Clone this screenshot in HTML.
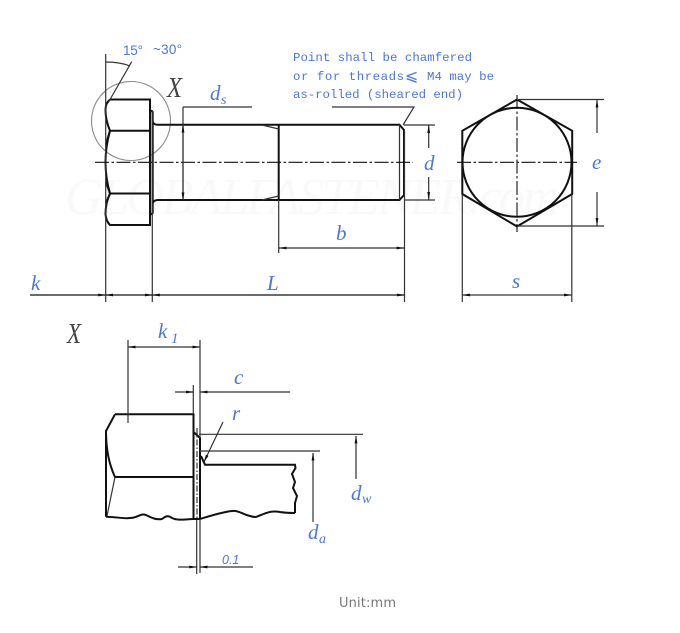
<!DOCTYPE html>
<html>
<head>
<meta charset="utf-8">
<style>
html,body{margin:0;padding:0;background:#fff;width:680px;height:633px;overflow:hidden}
svg{display:block;filter:blur(0.35px)}
.o{fill:none;stroke:#111;stroke-width:2}
.t{fill:none;stroke:#333;stroke-width:1.2}
.c{fill:none;stroke:#111;stroke-width:1.1;stroke-dasharray:14 2.5 2.5 2.5}
.m{font-family:"Liberation Mono",monospace;font-size:12.4px;fill:#4a76e0}
.l{font-family:"Liberation Serif",serif;font-style:italic;font-size:21px;fill:#4a76e0}
.s{font-family:"Liberation Serif",serif;font-style:italic;font-size:14px;fill:#4a76e0}
.x{font-family:"Liberation Serif",serif;font-style:italic;font-size:28px;fill:#444}
</style>
</head>
<body>
<svg width="680" height="633" viewBox="0 0 680 633" xmlns="http://www.w3.org/2000/svg">
<defs>
<marker id="a" markerWidth="8" markerHeight="4" refX="7.5" refY="2" orient="auto-start-reverse" markerUnits="userSpaceOnUse"><path d="M0,0.6 L8,2 L0,3.4Z" fill="#111"/></marker>
</defs>

<text x="65" y="214" font-family="Liberation Serif,serif" font-style="italic" font-size="52" fill="#f9f9f9" textLength="495">GLOBALFASTENER.com</text>

<!-- top view: head -->
<circle cx="131" cy="121" r="39.5" fill="none" stroke="#8a8a8a" stroke-width="1.1"/>
<path class="o" d="M110,99.5 H150 V225 H110 Q106,221 105.5,214 Q105.5,203 110,193.5 H150 M110,193.5 Q105.5,178 105.5,162 Q105.5,147 110,130.7 H150 M110,130.7 Q105.5,120 105.5,110 Q105.5,103 110,99.5"/>
<path class="o" d="M106,144 L110,130.7 M106,182 L110,193.5 M110,193.5 L106,203"/>
<path class="o" d="M150,110 L152.7,112 V213 L150,215"/>
<path class="o" d="M152.7,122 Q154,124.8 158,124.8 H399.5 L404,130 V195 L399.5,200 H158 Q154,200 152.7,203"/>
<path class="t" d="M399.5,125 V200"/>
<path class="o" d="M278.7,125 V200"/>
<path class="t" d="M262,125 L278.7,129 M262,200 L278.7,196"/>

<!-- extension lines -->
<path class="t" d="M105.7,54 V302 M152.3,110 V302 M404.5,130 V302 M278.7,200 V253 M183,107 H252 M183,107 V200 M404,125 H435 M404,200 H435"/>
<path class="c" d="M95,162.3 H413"/>

<!-- angle & leaders -->
<path class="t" d="M106,62 Q120,62 130,66 M131.7,61.7 L108,103"/>
<path class="t" d="M332,107 H414 L403,125"/>

<!-- dims top -->
<path class="t" marker-start="url(#a)" marker-end="url(#a)" d="M183,125 V200"/>
<path class="t" marker-start="url(#a)" d="M428.7,125.5 V148"/>
<path class="t" marker-end="url(#a)" d="M428.7,177 V199.5"/>
<path class="t" marker-start="url(#a)" marker-end="url(#a)" d="M279,248 H404"/>
<path class="t" d="M30,295 H404.5"/>
<path class="t" marker-end="url(#a)" d="M30,295 H105.7" />
<path class="t" marker-start="url(#a)" marker-end="url(#a)" d="M105.7,295 H152.3"/>
<path class="t" marker-start="url(#a)" marker-end="url(#a)" d="M152.3,295 H404.5"/>
<path class="t" marker-start="url(#a)" marker-end="url(#a)" d="M462.5,295 H571.5"/>

<!-- hex view -->
<path class="o" stroke-width="1.6" d="M517,99.5 L572.2,130.8 V194 L517,226.5 L462.3,194 V130.8Z"/>
<circle cx="517" cy="162.3" r="54.5" class="o"/>
<path class="c" d="M457,162.3 H577 M517,95 V232"/>
<path class="t" d="M462.3,194 V302 M571.8,194 V302 M517,99.5 H604 M517,226 H604"/>
<path class="t" marker-start="url(#a)" d="M597,100 V133"/>
<path class="t" marker-end="url(#a)" d="M597,192 V225.5"/>

<!-- bottom detail -->
<path class="o" d="M115,414.3 H193.5 V519 M115,414.3 L106,431 V516.7 M106,431 Q106,458 115,477 H193.5"/>
<path class="t" d="M115,477 L107,516"/>
<path class="o" d="M106,516.7 C118,517 124,519 130,518 C138,518 140,513 146,515 C152,518 156,520 162,519 C166,516 168,515 172,518 C178,521 186,519 193.5,519 L200,519 C210,516 222,512 232,511 C240,510 246,517 256,517 C264,514 270,510 280,512 C286,513 290,513 295,513"/>
<path class="o" d="M193.5,432 L200,438 V519"/>
<path class="o" d="M201,456 L205,464.7 H295 L295.5,468 L292,474 L295,482 L293,488 L297,496 L295,503 L295,513"/>
<path class="t" stroke-dasharray="6 2 1.5 2" d="M197,428 V520"/>
<path class="t" d="M128,340 V423 M200,340 V438 M200,519 V573 M193.3,385 V414 M196.7,520 V574 M199,434.3 H363 M200,451 H320"/>
<path class="t" marker-start="url(#a)" marker-end="url(#a)" d="M128,347 H200"/>
<path class="t" marker-end="url(#a)" d="M175,392 H193.3"/>
<path class="t" marker-start="url(#a)" d="M200,392 H290"/>
<path class="t" marker-end="url(#a)" d="M178,567 H196.7"/>
<path class="t" marker-start="url(#a)" d="M200,567 H253"/>
<path class="t" marker-end="url(#a)" d="M223,422 L204,462"/>
<path class="t" marker-start="url(#a)" d="M356,436 V479"/>
<path class="t" marker-start="url(#a)" d="M313,453 V522"/>

<!-- text -->
<text x="123" y="55" font-family="Liberation Sans,sans-serif" font-size="13.5" fill="#4a76e0" textLength="20">15°</text>
<text x="153" y="54" font-family="Liberation Sans,sans-serif" font-size="13.5" fill="#4a76e0" textLength="29">~30°</text>
<text class="m" x="293" y="61" textLength="179">Point shall be chamfered</text>
<text class="m" x="293" y="80" textLength="111">or for threads</text>
<text x="405" y="81" font-family="DejaVu Sans,sans-serif" font-size="16" fill="#4a76e0">⩽</text>
<text class="m" x="427" y="80" textLength="67">M4 may be</text>
<text class="m" x="293" y="98" textLength="170">as-rolled (sheared end)</text>

<text class="x" x="167" y="97" textLength="15" lengthAdjust="spacingAndGlyphs">X</text>
<text class="x" x="67" y="343" textLength="14" lengthAdjust="spacingAndGlyphs">X</text>

<text class="l" x="210" y="100">d</text><text class="s" x="221" y="104">s</text>
<text class="l" x="31" y="290">k</text>
<text class="l" x="267" y="290">L</text>
<text class="l" x="336" y="240">b</text>
<text class="l" x="424" y="170">d</text>
<text class="l" x="592" y="169">e</text>
<text class="l" x="512" y="288">s</text>
<text class="l" x="158" y="338">k</text><text class="s" x="171" y="343" style="font-size:15px">1</text>
<text class="l" x="234" y="384">c</text>
<text class="l" x="232" y="420">r</text>
<text class="l" x="351" y="500">d</text><text class="s" x="362" y="503">w</text>
<text class="l" x="308" y="539">d</text><text class="s" x="319" y="543">a</text>
<text x="222" y="564" font-family="Liberation Sans,sans-serif" font-style="italic" font-size="12.5" fill="#4a76e0">0.1</text>
<text x="339" y="607" font-family="DejaVu Sans,sans-serif" font-size="13" fill="#777" textLength="57">Unit:mm</text>
</svg>
</body>
</html>
